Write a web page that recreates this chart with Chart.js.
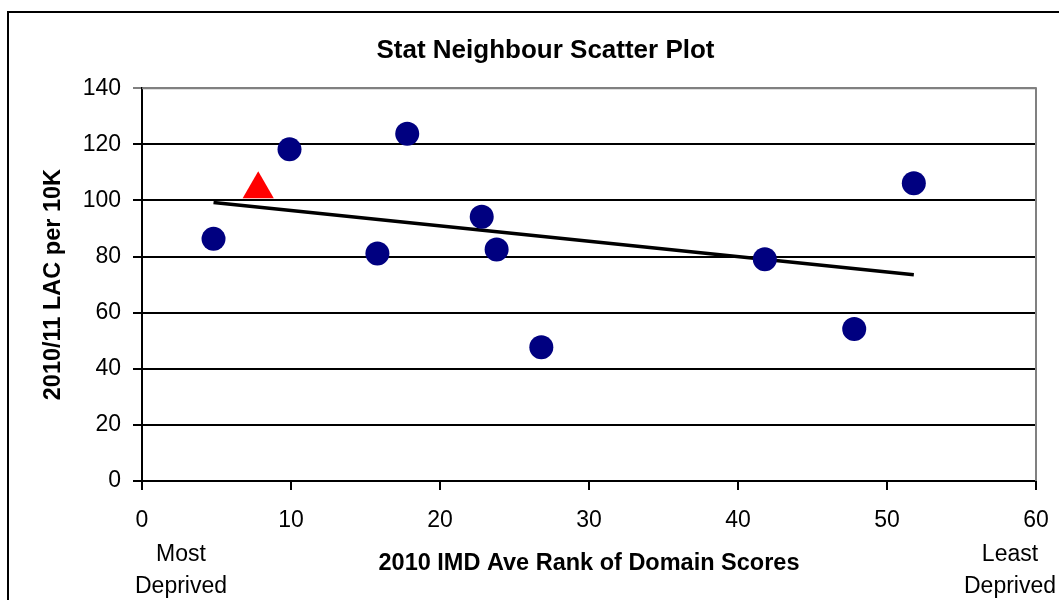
<!DOCTYPE html>
<html lang="en">
<head>
  <meta charset="UTF-8" />
  <title>Stat Neighbour Scatter Plot</title>
  <script src="https://cdn.jsdelivr.net/npm/chart.js"></script>
  <style>
    body {
      margin: 0;
      background: #fff;
    }
    #wrap {
      width: 1059px;
      height: 600px;
    }
  </style>
</head>
<body>
  <div id="wrap">
    <canvas id="scatterChart" width="1059" height="600"></canvas>
  </div>

  <script>
    // stat neighbours: IMD rank vs LAC rate
    const neighbourRank = [4.8, 9.9, 15.8, 17.8, 22.8, 23.8, 26.8, 41.8, 47.8, 51.8];
    const neighbourLac = [86.3, 118.2, 81.1, 123.8, 94.2, 82.5, 47.7, 79.0, 54.2, 106.1];

    // the local authority itself
    const laRank = [7.8];
    const laLac = [104];

    // trend line end points
    const trendRank = [4.8, 51.8];
    const trendLac = [99.3, 73.5];

    const yTicks = [0, 20, 40, 60, 80, 100, 120, 140];
    const xTicks = [0, 10, 20, 30, 40, 50, 60];

    const fontFamily = "'Liberation Sans', Arial, sans-serif";

    const toPoints = (xs, ys) => xs.map((x, i) => ({ x: x, y: ys[i] }));

    const frame = {
      id: "frame",
      beforeDraw(chart) {
        const c = chart.ctx;
        c.save();
        c.fillStyle = "#fff";
        c.fillRect(0, 0, chart.width, chart.height);
        c.strokeStyle = "#000";
        c.lineWidth = 2;
        c.strokeRect(8, 12, chart.width + 20, chart.height + 20);
        c.restore();
      },
      beforeDatasetsDraw(chart) {
        const a = chart.chartArea;
        const c = chart.ctx;
        c.save();
        c.strokeStyle = "#808080";
        c.lineWidth = 2;
        c.beginPath();
        c.moveTo(a.left, a.top);
        c.lineTo(a.right, a.top);
        c.lineTo(a.right, a.bottom);
        c.stroke();
        c.restore();
      },
      afterDraw(chart) {
        const a = chart.chartArea;
        const c = chart.ctx;
        c.save();
        c.fillStyle = "#000";
        c.font = "23px " + fontFamily;
        c.textAlign = "center";
        c.textBaseline = "middle";
        c.fillText("Most", a.left + 39, 555);
        c.fillText("Deprived", a.left + 39, 587);
        c.fillText("Least", a.right - 26, 555);
        c.fillText("Deprived", a.right - 26, 587);
        c.restore();
      }
    };

    const chart = new Chart(document.getElementById("scatterChart"), {
      type: "scatter",
      data: {
        datasets: [
          {
            label: "Stat neighbours",
            data: toPoints(neighbourRank, neighbourLac),
            backgroundColor: "#000080",
            borderWidth: 0,
            pointRadius: 12,
            pointHoverRadius: 12
          },
          {
            label: "LA",
            data: toPoints(laRank, laLac),
            backgroundColor: "#ff0000",
            borderWidth: 0,
            pointStyle: "triangle",
            pointRadius: 18,
            pointHoverRadius: 18
          },
          {
            type: "line",
            label: "Trend",
            data: toPoints(trendRank, trendLac),
            borderColor: "#000",
            borderWidth: 3.5,
            pointRadius: 0,
            fill: false
          }
        ]
      },
      options: {
        responsive: false,
        animation: false,
        layout: { padding: { left: 55, right: 23, top: 0, bottom: 0 } },
        plugins: {
          legend: { display: false },
          tooltip: { enabled: false },
          title: {
            display: true,
            text: "Stat Neighbour Scatter Plot",
            color: "#000",
            font: { family: fontFamily, size: 26, weight: "bold" },
            padding: { top: 35, bottom: 22 }
          }
        },
        scales: {
          x: {
            type: "linear",
            min: 0,
            max: 60,
            afterBuildTicks(scale) {
              scale.ticks = xTicks.map(v => ({ value: v }));
            },
            afterFit(scale) {
              scale.height = 119;
              scale.paddingLeft = 0;
              scale.paddingRight = 0;
            },
            border: { color: "#000", width: 2 },
            grid: {
              drawOnChartArea: false,
              drawTicks: true,
              tickLength: 9,
              color: "#000",
              lineWidth: 2
            },
            ticks: {
              color: "#000",
              padding: 17,
              maxRotation: 0,
              font: { family: fontFamily, size: 23 }
            },
            title: {
              display: true,
              text: "2010 IMD Ave Rank of Domain Scores",
              color: "#000",
              font: { family: fontFamily, size: 23.5, weight: "bold" },
              padding: { top: 0, bottom: 22 }
            }
          },
          y: {
            type: "linear",
            min: 0,
            max: 140,
            afterBuildTicks(scale) {
              scale.ticks = yTicks.map(v => ({ value: v }));
            },
            afterFit(scale) {
              scale.width = 87;
            },
            border: { color: "#000", width: 2 },
            grid: {
              drawTicks: true,
              tickLength: 9,
              color: ctx => ctx.tick && ctx.tick.value === 140 ? "#808080" : "#000",
              lineWidth: 2
            },
            ticks: {
              color: "#000",
              padding: 12,
              font: { family: fontFamily, size: 23 }
            },
            title: {
              display: true,
              text: "2010/11 LAC per 10K",
              color: "#000",
              font: { family: fontFamily, size: 23.5, weight: "bold" },
              padding: { top: -16, bottom: 0 }
            }
          }
        }
      },
      plugins: [frame]
    });
  </script>
</body>
</html>
